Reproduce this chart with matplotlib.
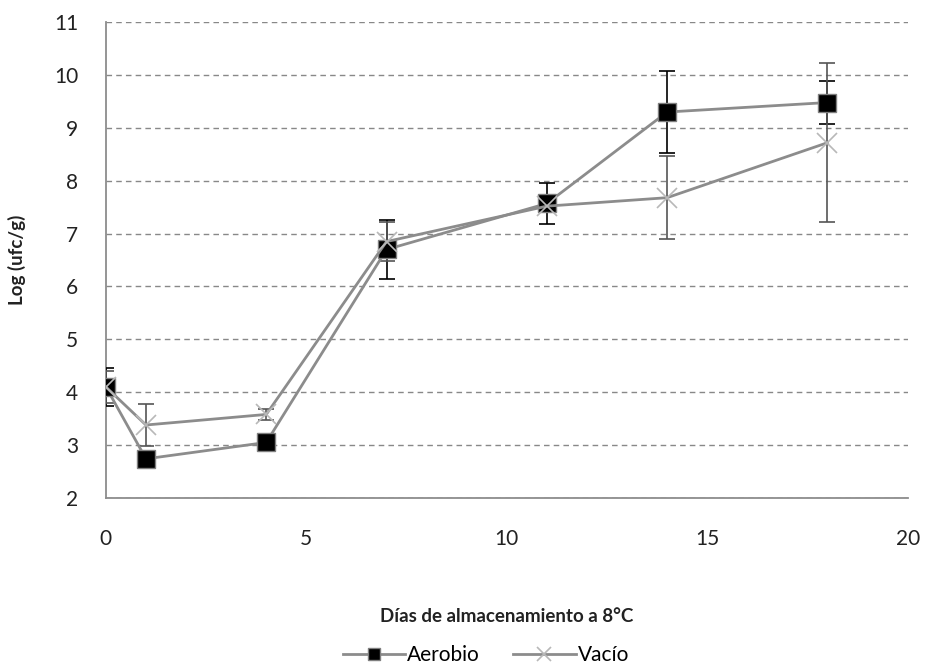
import matplotlib
matplotlib.use("Agg")
import matplotlib.pyplot as plt

plt.rcParams['font.family'] = ['Lato', 'DejaVu Sans']

dias = [0, 1, 4, 7, 11, 14, 18]
aerobio = [4.1, 2.74, 3.05, 6.7, 7.57, 9.3, 9.48]
aerobio_err = [0.36, 0.08, 0.08, 0.55, 0.38, 0.77, 0.41]
vacio = [4.1, 3.38, 3.58, 6.85, 7.52, 7.68, 8.72]
vacio_err = [0.3, 0.4, 0.1, 0.37, 0.1, 0.78, 1.5]

xticks = [0, 5, 10, 15, 20]
yticks = [2, 3, 4, 5, 6, 7, 8, 9, 10, 11]

fig = plt.figure(figsize=(9.29, 6.72), dpi=100)
ax = fig.add_axes([0.114, 0.259, 0.863, 0.708])

line_col = '#8c8c8c'
ax.errorbar(dias, aerobio, yerr=aerobio_err, fmt='none', ecolor='black',
            elinewidth=1.2, capsize=6, capthick=1.2, zorder=3)
ax.errorbar(dias, vacio, yerr=vacio_err, fmt='none', ecolor='#555555',
            elinewidth=1.2, capsize=6, capthick=1.2, zorder=3)
ax.plot(dias, aerobio, color=line_col, lw=2, marker='s', markersize=13,
        markerfacecolor='black', markeredgecolor='#7f7f7f', markeredgewidth=1,
        label='Aerobio', zorder=4)
ax.plot(dias, vacio, color=line_col, lw=2, marker='x', markersize=15,
        markeredgecolor='#b8b8b8', markeredgewidth=1.2, label='Vacío', zorder=5)

ax.set_xlim(0, 20)
ax.set_ylim(2, 11)
ax.set_xticks(xticks)
ax.set_yticks(yticks)
ax.tick_params(axis='both', length=0, labelsize=15, colors='#222222')
ax.tick_params(axis='x', pad=22)
ax.tick_params(axis='y', pad=20)
ax.yaxis.grid(True, linestyle=(0, (4, 3)), color='#888888', lw=1)
ax.set_axisbelow(True)
for s in ['top', 'right']:
    ax.spines[s].set_visible(False)
for s in ['left', 'bottom']:
    ax.spines[s].set_color('#8c8c8c')
    ax.spines[s].set_linewidth(1.3)

ax.set_xlabel('Días de almacenamiento a 8°C', fontsize=13.5, fontweight='bold',
              labelpad=43, color='#222222')
ax.set_ylabel('Log (ufc/g)', fontsize=13.5, fontweight='bold', labelpad=20,
              color='#222222')

fig.legend(loc='lower center', bbox_to_anchor=(0.523, -0.018), ncol=2,
           frameon=False, fontsize=15, handlelength=3.0, columnspacing=1.6,
           handletextpad=0.1, markerscale=0.65)

fig.savefig('out.png', dpi=100)
